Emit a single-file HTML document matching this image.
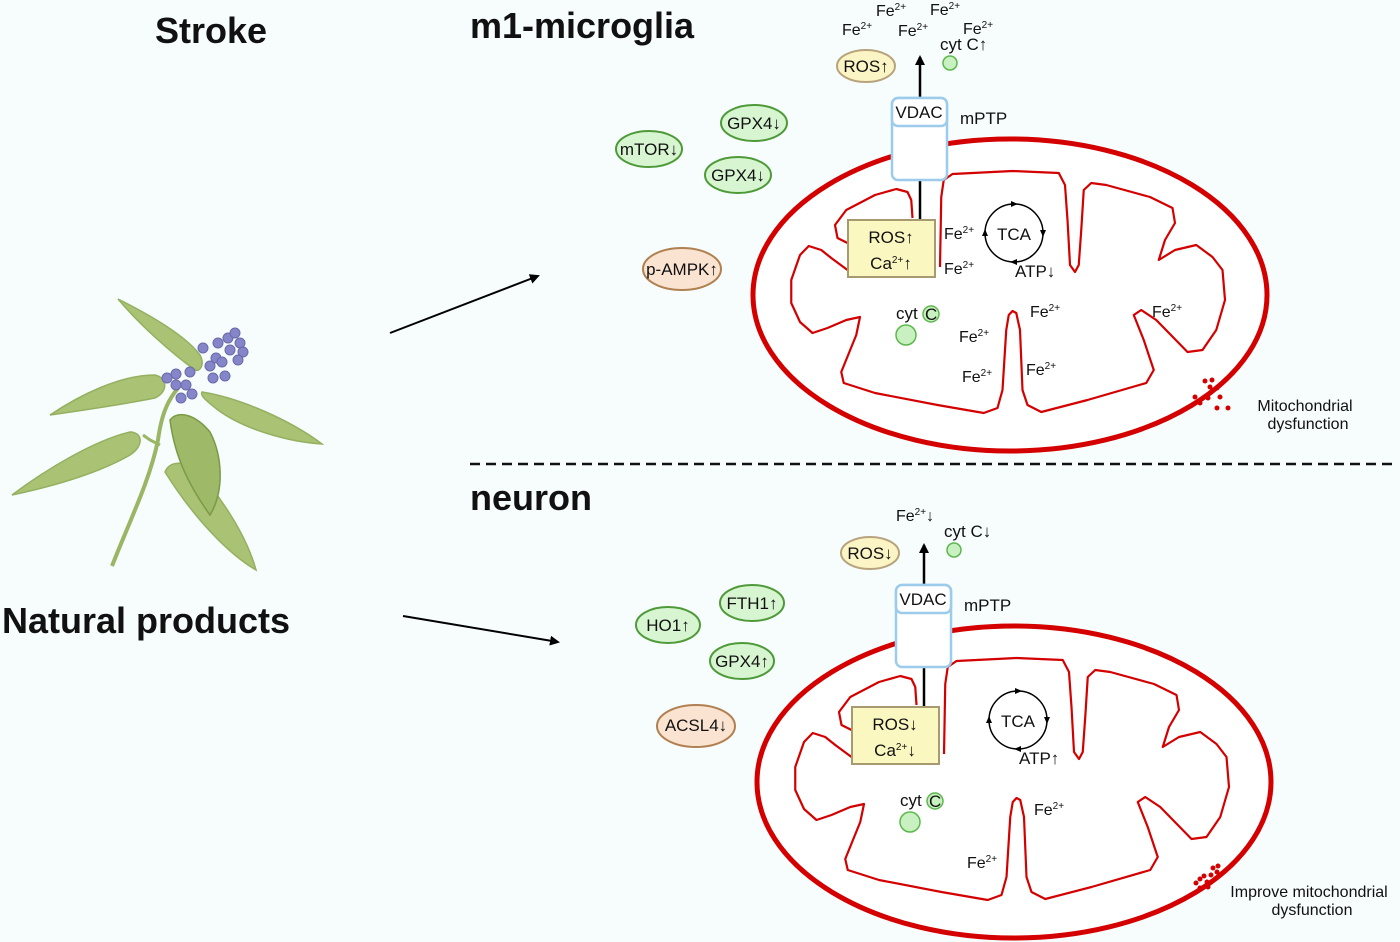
<!DOCTYPE html>
<html><head><meta charset="utf-8"><style>
html,body{margin:0;padding:0;background:#f7fcfd;}
svg{display:block;}
text{font-family:"Liberation Sans",Arial,sans-serif;fill:#111;}
</style></head><body>
<svg width="1400" height="942" viewBox="0 0 1400 942" xmlns="http://www.w3.org/2000/svg">
<defs>
<marker id="ah" markerWidth="10" markerHeight="10" refX="8" refY="5" orient="auto" markerUnits="userSpaceOnUse"><path d="M0,0 L10,5 L0,10 z" fill="#000"/></marker>
<g id="mito">
  <ellipse cx="1010" cy="295" rx="257" ry="156" fill="#fff" stroke="#d40000" stroke-width="5"/>
  <g transform="matrix(1.25,0,0,1,-187.5,0)" fill="none" stroke="#d40000" stroke-width="2.2" stroke-linejoin="round">
  <polyline vector-effect="non-scaling-stroke" points="880,218 879,200 876,192 867,189 850,195 827,210 818,225 820,238 828,243"/>
  <polyline vector-effect="non-scaling-stroke" points="828,270 815,258 807,250 797,246 790,255 783,280 783,303 790,322 800,333 812,328 827,320 838,317 835,335 823,372 825,383 850,393 900,405 937,413 948,408 952,390 955,330 957,315 960,311 963,313 966,330 968,390 972,405 983,412 1020,400 1067,383 1073,370 1065,340 1057,315 1063,310 1075,320 1100,352 1112,350 1123,330 1130,300 1128,270 1120,257 1107,245 1090,250 1077,260 1082,240 1090,223 1088,208 1070,197 1035,185 1023,183 1017,190 1015,230 1013,265 1010,272 1006,265 1004,220 1002,185 997,173 960,171 912,174 905,180 903,197 902,267"/>
  </g>
</g>
<g id="tca">
  <circle cx="0" cy="0" r="29" fill="none" stroke="#000" stroke-width="1.5"/>
  <path d="M-3,-32 L4,-29 L-3,-26 z M32,-3 L29,4 L26,-3 z M3,32 L-4,29 L3,26 z M-32,3 L-29,-4 L-26,3 z" fill="#000"/>
</g>
</defs>

<text x="155" y="43" font-size="36" font-weight="bold">Stroke</text>
<text x="470" y="38" font-size="36" font-weight="bold">m1-microglia</text>
<text x="470" y="510" font-size="36" font-weight="bold">neuron</text>
<text x="2" y="633" font-size="36" font-weight="bold">Natural products</text>

<line x1="470" y1="464" x2="1398" y2="464" stroke="#111" stroke-width="2.5" stroke-dasharray="10,6"/>

<line x1="390" y1="333" x2="538" y2="276" stroke="#000" stroke-width="2" marker-end="url(#ah)"/>
<line x1="403" y1="616" x2="558" y2="642" stroke="#000" stroke-width="2" marker-end="url(#ah)"/>

<!-- Plant -->
<g stroke="#95b060" stroke-width="1.5" fill="#a9c274">
  <path d="M112,566 C130,520 150,480 158,440 C162,410 170,398 178,388" fill="none" stroke="#9ab665" stroke-width="4"/>
  <path d="M160,445 L150,440 L143,435" fill="none" stroke="#9ab665" stroke-width="3"/>
  <path d="M118,299 C150,315 185,335 200,355 C205,365 200,372 195,370 C170,352 140,325 118,299 z"/>
  <path d="M50,415 C80,395 120,375 155,375 C168,378 168,392 155,398 C120,405 85,410 50,415 z"/>
  <path d="M202,392 C240,398 290,420 322,444 C290,442 245,430 218,410 C205,400 200,395 202,392 z"/>
  <path d="M12,495 C45,470 95,440 130,432 C142,432 145,445 130,455 C95,475 45,488 12,495 z"/>
  <path d="M165,472 C170,460 185,462 195,468 C215,490 245,530 256,570 C230,555 195,520 165,472 z"/>
  <path d="M170,420 C178,410 195,414 210,432 C222,455 225,490 210,515 C192,490 175,460 170,420 z" fill="#9eba68" stroke="#7a9a45"/>
</g>
<g fill="#8585c9" stroke="#6a6aaa" stroke-width="1">
  <circle cx="203" cy="348" r="5"/><circle cx="218" cy="343" r="5"/><circle cx="228" cy="338" r="5"/><circle cx="235" cy="333" r="5"/><circle cx="240" cy="343" r="5"/><circle cx="243" cy="352" r="5"/><circle cx="230" cy="350" r="5"/><circle cx="216" cy="358" r="5"/><circle cx="210" cy="366" r="5"/><circle cx="222" cy="362" r="5"/><circle cx="238" cy="360" r="5"/><circle cx="225" cy="376" r="5"/><circle cx="213" cy="378" r="5"/><circle cx="190" cy="372" r="5"/><circle cx="176" cy="374" r="5"/><circle cx="167" cy="378" r="5"/><circle cx="176" cy="385" r="5"/><circle cx="186" cy="385" r="5"/><circle cx="181" cy="398" r="5"/><circle cx="192" cy="394" r="5"/>
</g>

<!-- TOP -->
<use href="#mito"/>
<line x1="920" y1="180" x2="920" y2="220" stroke="#000" stroke-width="2.5"/>
<line x1="920" y1="98" x2="920" y2="57" stroke="#000" stroke-width="2.5" marker-end="url(#ah)"/>
<rect x="892" y="98" width="55" height="82" rx="6" fill="#fff" stroke="#9ccbec" stroke-width="2.5"/>
<rect x="892" y="98" width="55" height="28" rx="6" fill="#fff" stroke="#9ccbec" stroke-width="2.5"/>
<text x="919" y="118" font-size="17" text-anchor="middle">VDAC</text>
<text x="960" y="124" font-size="17">mPTP</text>
<rect x="848" y="220" width="87" height="57" fill="#fbf7c0" stroke="#a89a70" stroke-width="2"/>
<text x="891" y="243" font-size="17" text-anchor="middle">ROS↑</text>
<text x="891" y="269" font-size="17" text-anchor="middle">Ca<tspan font-size="10" dy="-6">2+</tspan><tspan dy="6">↑</tspan></text>
<g transform="translate(1014,233)"><use href="#tca"/></g>
<text x="1014" y="240" font-size="17" text-anchor="middle">TCA</text>
<text x="1015" y="277" font-size="17">ATP↓</text>
<g font-size="16">
<text x="944" y="239">Fe<tspan font-size="10" dy="-6">2+</tspan></text>
<text x="944" y="274">Fe<tspan font-size="10" dy="-6">2+</tspan></text>
<text x="1030" y="317">Fe<tspan font-size="10" dy="-6">2+</tspan></text>
<text x="1152" y="317">Fe<tspan font-size="10" dy="-6">2+</tspan></text>
<text x="959" y="342">Fe<tspan font-size="10" dy="-6">2+</tspan></text>
<text x="1026" y="375">Fe<tspan font-size="10" dy="-6">2+</tspan></text>
<text x="962" y="382">Fe<tspan font-size="10" dy="-6">2+</tspan></text>
<text x="842" y="35">Fe<tspan font-size="10" dy="-6">2+</tspan></text>
<text x="876" y="16">Fe<tspan font-size="10" dy="-6">2+</tspan></text>
<text x="898" y="36">Fe<tspan font-size="10" dy="-6">2+</tspan></text>
<text x="930" y="15">Fe<tspan font-size="10" dy="-6">2+</tspan></text>
<text x="963" y="34">Fe<tspan font-size="10" dy="-6">2+</tspan></text>
</g>
<text x="940" y="50" font-size="17">cyt C↑</text>
<circle cx="950" cy="63" r="7" fill="#c9f0c0" stroke="#5cb84c" stroke-width="1.5"/>
<text x="896" y="319" font-size="17">cyt</text>
<circle cx="931" cy="314" r="8" fill="#c9f0c0" stroke="#5cb84c" stroke-width="1.5"/>
<text x="925" y="320" font-size="17">C</text>
<circle cx="906" cy="335" r="10" fill="#c9f0c0" stroke="#5cb84c" stroke-width="1.5"/>
<g fill="#d40000"><circle cx="1195" cy="397" r="2.5"/><circle cx="1200" cy="403" r="2.5"/><circle cx="1205" cy="381" r="2.5"/><circle cx="1212" cy="380" r="2.5"/><circle cx="1210" cy="387" r="2.5"/><circle cx="1217" cy="388" r="2.5"/><circle cx="1208" cy="398" r="2.5"/><circle cx="1220" cy="397" r="2.5"/><circle cx="1217" cy="408" r="2.5"/><circle cx="1228" cy="408" r="2.5"/></g>
<text x="1305" y="411" font-size="16" text-anchor="middle">Mitochondrial</text>
<text x="1308" y="429" font-size="16" text-anchor="middle">dysfunction</text>
<g font-size="17" text-anchor="middle" stroke-width="2">
<ellipse cx="866" cy="66" rx="29" ry="16" fill="#fbf4c4" stroke="#b7a47e"/>
<text x="866" y="72" stroke="none">ROS↑</text>
<ellipse cx="754" cy="123" rx="33" ry="18" fill="#d8f5d2" stroke="#4e9a38"/>
<text x="754" y="129" stroke="none">GPX4↓</text>
<ellipse cx="649" cy="149" rx="33" ry="18" fill="#d8f5d2" stroke="#4e9a38"/>
<text x="649" y="155" stroke="none">mTOR↓</text>
<ellipse cx="738" cy="175" rx="33" ry="18" fill="#d8f5d2" stroke="#4e9a38"/>
<text x="738" y="181" stroke="none">GPX4↓</text>
<ellipse cx="682" cy="269" rx="39" ry="21" fill="#fbe3d2" stroke="#b08050"/>
<text x="682" y="275" stroke="none">p-AMPK↑</text>
</g>

<!-- BOTTOM -->
<g transform="translate(4,487)"><use href="#mito"/></g>
<line x1="924" y1="667" x2="924" y2="707" stroke="#000" stroke-width="2.5"/>
<line x1="924" y1="585" x2="924" y2="545" stroke="#000" stroke-width="2.5" marker-end="url(#ah)"/>
<rect x="896" y="585" width="55" height="82" rx="6" fill="#fff" stroke="#9ccbec" stroke-width="2.5"/>
<rect x="896" y="585" width="55" height="28" rx="6" fill="#fff" stroke="#9ccbec" stroke-width="2.5"/>
<text x="923" y="605" font-size="17" text-anchor="middle">VDAC</text>
<text x="964" y="611" font-size="17">mPTP</text>
<rect x="852" y="707" width="87" height="57" fill="#fbf7c0" stroke="#a89a70" stroke-width="2"/>
<text x="895" y="730" font-size="17" text-anchor="middle">ROS↓</text>
<text x="895" y="756" font-size="17" text-anchor="middle">Ca<tspan font-size="10" dy="-6">2+</tspan><tspan dy="6">↓</tspan></text>
<g transform="translate(1018,720)"><use href="#tca"/></g>
<text x="1018" y="727" font-size="17" text-anchor="middle">TCA</text>
<text x="1019" y="764" font-size="17">ATP↑</text>
<g font-size="16">
<text x="1034" y="815">Fe<tspan font-size="10" dy="-6">2+</tspan></text>
<text x="967" y="868">Fe<tspan font-size="10" dy="-6">2+</tspan></text>
<text x="896" y="521">Fe<tspan font-size="10" dy="-6">2+</tspan><tspan font-size="16" dy="6">↓</tspan></text>
</g>
<text x="944" y="537" font-size="17">cyt C↓</text>
<circle cx="954" cy="550" r="7" fill="#c9f0c0" stroke="#5cb84c" stroke-width="1.5"/>
<text x="900" y="806" font-size="17">cyt</text>
<circle cx="935" cy="801" r="8" fill="#c9f0c0" stroke="#5cb84c" stroke-width="1.5"/>
<text x="929" y="807" font-size="17">C</text>
<circle cx="910" cy="822" r="10" fill="#c9f0c0" stroke="#5cb84c" stroke-width="1.5"/>
<g fill="#d40000"><circle cx="1196" cy="883" r="2.5"/><circle cx="1200" cy="879" r="2.5"/><circle cx="1204" cy="876" r="2.5"/><circle cx="1207" cy="882" r="2.5"/><circle cx="1211" cy="875" r="2.5"/><circle cx="1213" cy="868" r="2.5"/><circle cx="1217" cy="872" r="2.5"/><circle cx="1200" cy="888" r="2.5"/><circle cx="1208" cy="887" r="2.5"/><circle cx="1218" cy="866" r="2.5"/></g>
<text x="1309" y="897" font-size="16" text-anchor="middle">Improve mitochondrial</text>
<text x="1312" y="915" font-size="16" text-anchor="middle">dysfunction</text>
<g font-size="17" text-anchor="middle" stroke-width="2">
<ellipse cx="870" cy="553" rx="29" ry="16" fill="#fbf4c4" stroke="#b7a47e"/>
<text x="870" y="559" stroke="none">ROS↓</text>
<ellipse cx="752" cy="603" rx="32" ry="18" fill="#d8f5d2" stroke="#4e9a38"/>
<text x="752" y="609" stroke="none">FTH1↑</text>
<ellipse cx="668" cy="625" rx="32" ry="18" fill="#d8f5d2" stroke="#4e9a38"/>
<text x="668" y="631" stroke="none">HO1↑</text>
<ellipse cx="742" cy="661" rx="32" ry="18" fill="#d8f5d2" stroke="#4e9a38"/>
<text x="742" y="667" stroke="none">GPX4↑</text>
<ellipse cx="696" cy="726" rx="39" ry="21" fill="#fbe3d2" stroke="#b08050"/>
<text x="696" y="731" stroke="none">ACSL4↓</text>
</g>
</svg>
</body></html>
